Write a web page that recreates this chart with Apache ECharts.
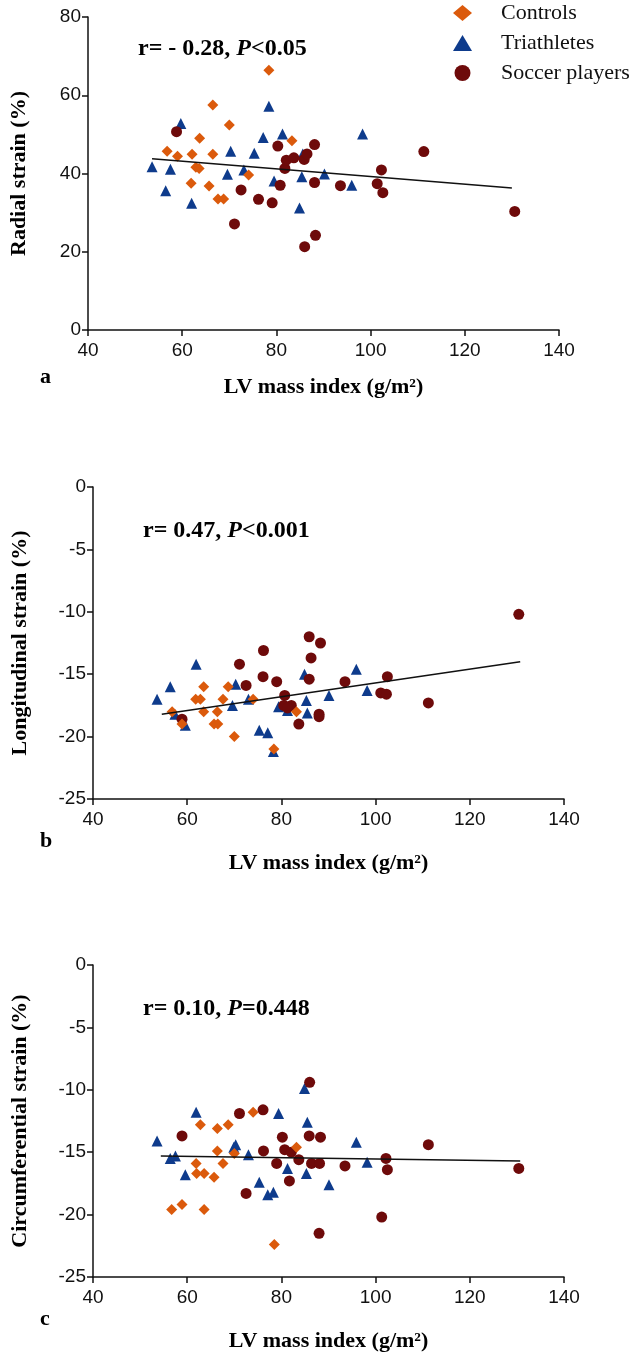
<!DOCTYPE html>
<html>
<head>
<meta charset="utf-8">
<script src="https://cdn.jsdelivr.net/npm/echarts@6/dist/echarts.min.js"></script>
<style>
  body { margin: 0; background: #fff; }
  #strainChart { width: 642px; height: 1355px; }
</style>
</head>
<body>
<div id="strainChart"></div>
<script>
// group names and colours
var groupNames = ['Controls', 'Triathletes', 'Soccer players'];
var groupColors = ['#DB5A0C', '#0E3B8C', '#6E0A0A'];

// axis settings
var xRange = [40, 140, 20];
var yRangeRadial = [0, 80, 20];
var yRangeStrain = [-25, 0, 5];

var yTitles = ['Radial strain (%)', 'Longitudinal strain (%)', 'Circumferential strain (%)'];
var xTitle = 'LV mass index (g/m\u00B2)';
var panelLetters = ['a', 'b', 'c'];
var statR = ['r= - 0.28, ', 'r= 0.47, ', 'r= 0.10, '];
var statP = ['<0.05', '<0.001', '=0.448'];

// panel a - radial strain
var radialControls = [[78.4,66.4],[66.5,57.5],[70.0,52.4],[63.7,49.0],[83.3,48.4],[56.8,45.7],[59.0,44.4],[62.1,44.9],[66.5,44.9],[62.9,41.6],[63.6,41.3],[74.1,39.6],[61.9,37.5],[65.7,36.8],[67.6,33.5],[68.8,33.5]];
var radialTriathletes = [[53.6,41.7],[56.5,35.6],[57.5,41.1],[59.7,52.8],[62.0,32.4],[69.6,39.8],[70.3,45.7],[73.1,40.9],[75.3,45.2],[77.2,49.2],[78.4,57.2],[79.5,38.1],[81.3,50.1],[84.9,31.2],[85.4,39.2],[85.6,45.0],[90.2,39.9],[96.0,37.0],[98.3,50.1]];
var radialSoccer = [[58.8,50.7],[71.1,27.1],[72.5,35.8],[76.2,33.4],[79.1,32.5],[80.3,47.0],[80.8,37.0],[81.8,41.3],[82.1,43.4],[83.7,44.0],[85.9,43.6],[86.5,45.0],[86.0,21.3],[88.1,47.4],[88.1,37.7],[88.3,24.2],[93.6,36.9],[102.3,40.9],[101.4,37.4],[102.6,35.1],[111.3,45.6],[130.6,30.3]];
var radialFit = [[53.6,43.8],[130.0,36.3]];

// panel b - longitudinal strain
var longControls = [[56.8,-18.0],[58.9,-19.0],[63.5,-16.0],[61.8,-17.0],[62.8,-17.0],[63.5,-18.0],[65.7,-19.0],[66.5,-19.0],[66.4,-18.0],[67.6,-17.0],[68.7,-16.0],[70.0,-20.0],[74.0,-17.0],[78.4,-21.0],[83.2,-18.0]];
var longTriathletes = [[53.6,-17.0],[56.4,-16.0],[57.4,-18.2],[59.6,-19.1],[61.9,-14.2],[69.6,-17.5],[70.3,-15.8],[73.0,-17.0],[75.3,-19.5],[77.1,-19.7],[78.3,-21.2],[79.4,-17.6],[81.3,-17.9],[84.9,-15.0],[85.3,-17.1],[85.5,-18.1],[90.1,-16.7],[95.9,-14.6],[98.2,-16.3]];
var longSoccer = [[58.9,-18.6],[71.1,-14.2],[72.5,-15.9],[76.2,-13.1],[76.1,-15.2],[79.0,-15.6],[80.7,-16.7],[80.5,-17.5],[82.1,-17.5],[81.3,-17.7],[83.7,-19.0],[85.9,-12.0],[88.3,-12.5],[86.3,-13.7],[85.9,-15.4],[88.0,-18.2],[88.0,-18.4],[93.5,-15.6],[101.1,-16.5],[102.5,-15.2],[102.3,-16.6],[111.2,-17.3],[130.4,-10.2]];
var longFit = [[54.6,-18.2],[130.7,-14.0]];

// panel c - circumferential strain
var circControls = [[56.7,-19.6],[58.9,-19.2],[63.6,-19.6],[61.9,-15.9],[62.0,-16.7],[63.6,-16.7],[62.8,-12.8],[65.7,-17.0],[66.4,-13.1],[66.4,-14.9],[67.6,-15.9],[68.7,-12.8],[70.0,-15.1],[74.0,-11.8],[83.2,-14.6],[78.5,-22.4]];
var circTriathletes = [[53.6,-14.1],[56.4,-15.5],[57.5,-15.3],[59.6,-16.8],[61.9,-11.8],[69.9,-14.6],[70.3,-14.4],[73.0,-15.2],[75.3,-17.4],[77.1,-18.4],[78.3,-18.2],[79.4,-11.9],[81.3,-16.3],[84.9,-9.9],[85.5,-12.6],[85.3,-16.7],[90.1,-17.6],[95.9,-14.2],[98.2,-15.8]];
var circSoccer = [[58.9,-13.7],[71.1,-11.9],[72.5,-18.3],[76.1,-11.6],[76.2,-14.9],[79.0,-15.9],[80.2,-13.8],[80.7,-14.8],[82.1,-15.0],[81.7,-17.3],[83.7,-15.6],[86.0,-9.4],[85.9,-13.7],[86.4,-15.9],[88.1,-15.9],[88.3,-13.8],[88.0,-21.5],[93.5,-16.1],[102.2,-15.5],[102.5,-16.4],[101.3,-20.2],[111.2,-14.4],[130.4,-16.3]];
var circFit = [[54.4,-15.3],[130.7,-15.7]];

var serif = 'Liberation Serif, Times New Roman, serif';
var sans = 'Liberation Sans, Arial, sans-serif';

var strainChart = echarts.init(document.getElementById('strainChart'));

// grid boxes in px
var grids = [
    {left: 88, top: 17, width: 471, height: 313, outerBoundsMode: 'none'},
    {left: 93, top: 487, width: 471, height: 312, outerBoundsMode: 'none'},
    {left: 93, top: 965, width: 471, height: 312, outerBoundsMode: 'none'}
];
var xNameGaps = [46, 53, 53];
var yNameGaps = [58, 62, 62];
var letterTops = [366, 830, 1308];
var yRanges = [yRangeRadial, yRangeStrain, yRangeStrain];
var panelData = [
    [radialControls, radialTriathletes, radialSoccer, radialFit],
    [longControls, longTriathletes, longSoccer, longFit],
    [circControls, circTriathletes, circSoccer, circFit]
];

function axisCommon(labelMargin){
    return {
        axisLine: {show: true, onZero: false, lineStyle: {color: '#111', width: 1.5}},
        axisTick: {show: true, length: 6, lineStyle: {color: '#111', width: 1.5}},
        splitLine: {show: false},
        axisLabel: {color: '#111', fontFamily: sans, fontSize: 19, margin: labelMargin}
    };
}

var xAxes = [], yAxes = [], series = [], graphics = [];
for (var i = 0; i < 3; i++) {
    var xa = axisCommon(11);
    xa.type = 'value';
    xa.gridIndex = i;
    xa.min = xRange[0]; xa.max = xRange[1]; xa.interval = xRange[2];
    xa.name = xTitle;
    xa.nameLocation = 'middle';
    xa.nameGap = xNameGaps[i];
    xa.nameTextStyle = {fontFamily: serif, fontWeight: 'bold', fontSize: 22, color: '#000'};
    xAxes.push(xa);

    var ya = axisCommon(7);
    ya.type = 'value';
    ya.gridIndex = i;
    ya.min = yRanges[i][0]; ya.max = yRanges[i][1]; ya.interval = yRanges[i][2];
    ya.name = yTitles[i];
    ya.nameLocation = 'middle';
    ya.nameGap = yNameGaps[i];
    ya.nameRotate = 90;
    ya.nameTextStyle = {fontFamily: serif, fontWeight: 'bold', fontSize: 22, color: '#000'};
    yAxes.push(ya);

    // triangles first, then circles, then diamonds on top
    series.push({
        name: groupNames[1], type: 'scatter', xAxisIndex: i, yAxisIndex: i,
        symbol: 'triangle', symbolSize: 11,
        itemStyle: {color: groupColors[1], opacity: 1},
        data: panelData[i][1]
    });
    series.push({
        name: groupNames[2], type: 'scatter', xAxisIndex: i, yAxisIndex: i,
        symbol: 'circle', symbolSize: 11,
        itemStyle: {color: groupColors[2], opacity: 1},
        data: panelData[i][2]
    });
    series.push({
        name: groupNames[0], type: 'scatter', xAxisIndex: i, yAxisIndex: i,
        symbol: 'diamond', symbolSize: 11,
        itemStyle: {color: groupColors[0], opacity: 1},
        data: panelData[i][0]
    });
    series.push({
        type: 'line', xAxisIndex: i, yAxisIndex: i,
        symbol: 'none', silent: true, z: 5,
        lineStyle: {color: '#111', width: 1.5},
        data: panelData[i][3]
    });

    graphics.push({
        type: 'text',
        left: grids[i].left + 50,
        top: grids[i].top + (i === 0 ? 20 : 32),
        style: {
            text: '{b|' + statR[i] + '}{i|P}{b|' + statP[i] + '}',
            rich: {
                b: {fontFamily: serif, fontWeight: 'bold', fontSize: 24, fill: '#000'},
                i: {fontFamily: serif, fontWeight: 'bold', fontStyle: 'italic', fontSize: 24, fill: '#000'}
            }
        }
    });
    graphics.push({
        type: 'text',
        left: 40,
        top: letterTops[i],
        style: {text: panelLetters[i], fontFamily: serif, fontWeight: 'bold', fontSize: 22, fill: '#000'}
    });
}

strainChart.setOption({
    animation: false,
    grid: grids,
    xAxis: xAxes,
    yAxis: yAxes,
    legend: {
        orient: 'vertical',
        left: 448,
        top: -3,
        itemWidth: 19,
        itemHeight: 16,
        itemGap: 8,
        selectedMode: false,
        textStyle: {fontFamily: serif, fontSize: 22, lineHeight: 22, color: '#111', padding: [0, 0, 0, 24]},
        data: [
            {name: groupNames[0], icon: 'diamond'},
            {name: groupNames[1], icon: 'triangle'},
            {name: groupNames[2], icon: 'circle'}
        ]
    },
    graphic: graphics,
    series: series
});
</script>
</body>
</html>
